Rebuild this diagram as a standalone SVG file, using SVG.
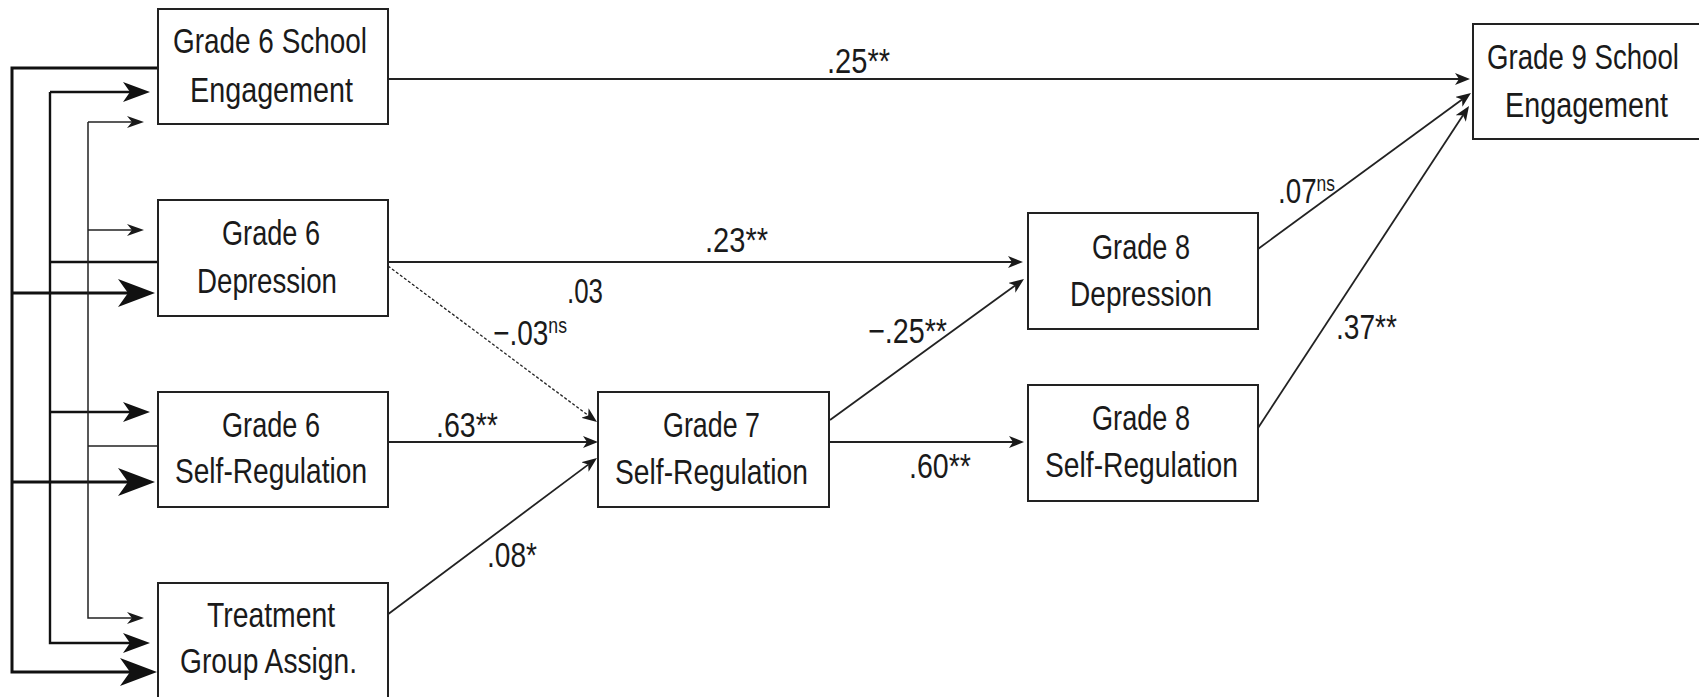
<svg xmlns="http://www.w3.org/2000/svg" width="1699" height="697" viewBox="0 0 1699 697">
  <style>
    .box { fill: #ffffff; stroke: #222222; stroke-width: 2; }
    .t { font-family: "Liberation Sans", Arial, sans-serif; font-size: 35px; fill: #1a1a1a; }
    .sup { font-size: 22px; }
    .path { fill: none; stroke: #222222; stroke-width: 1.8; }
    .dash { fill: none; stroke: #222222; stroke-width: 1.3; stroke-dasharray: 3 2; }
    .cor1 { fill: none; stroke: #111111; stroke-width: 3; }
    .cor2 { fill: none; stroke: #111111; stroke-width: 2.4; }
    .cor3 { fill: none; stroke: #222222; stroke-width: 1.5; }
  </style>
  <defs>
    <!-- swept-back arrowheads; refX sits at the notch so the stroke ends inside the head -->
    <marker id="arr" viewBox="0 0 15 12" markerWidth="15" markerHeight="12" refX="4" refY="6" orient="auto" markerUnits="userSpaceOnUse">
      <path d="M15,6 L0,0 L4,6 L0,12 Z" fill="#1a1a1a"/>
    </marker>
    <marker id="arrBig" viewBox="0 0 37 28" markerWidth="37" markerHeight="28" refX="10" refY="14" orient="auto" markerUnits="userSpaceOnUse">
      <path d="M37,14 L0,0 L10,14 L0,28 Z" fill="#111111"/>
    </marker>
    <marker id="arrMid" viewBox="0 0 27 20" markerWidth="27" markerHeight="20" refX="7" refY="10" orient="auto" markerUnits="userSpaceOnUse">
      <path d="M27,10 L0,0 L7,10 L0,20 Z" fill="#111111"/>
    </marker>
    <marker id="arrSmall" viewBox="0 0 17 12" markerWidth="17" markerHeight="12" refX="5" refY="6" orient="auto" markerUnits="userSpaceOnUse">
      <path d="M17,6 L0,0 L5,6 L0,12 Z" fill="#1a1a1a"/>
    </marker>
  </defs>

  <rect width="1699" height="697" fill="#ffffff"/>

  <!-- connectors -->
  <g id="connectors">
    <!-- covariances among grade 6 measures and treatment -->
    <path class="cor1" d="M158,68 H12 V672 H130" marker-end="url(#arrBig)"/>
    <path class="cor1" d="M12,293 H128" marker-end="url(#arrBig)"/>
    <path class="cor1" d="M12,482 H128" marker-end="url(#arrBig)"/>

    <path class="cor2" d="M158,262 H50"/>
    <path class="cor2" d="M50,92 V643 H130" marker-end="url(#arrMid)"/>
    <path class="cor2" d="M50,92 H130" marker-end="url(#arrMid)"/>
    <path class="cor2" d="M50,412 H130" marker-end="url(#arrMid)"/>

    <path class="cor3" d="M158,446 H88"/>
    <path class="cor3" d="M88,122 V618 H132" marker-end="url(#arrSmall)"/>
    <path class="cor3" d="M88,122 H132" marker-end="url(#arrSmall)"/>
    <path class="cor3" d="M88,230 H132" marker-end="url(#arrSmall)"/>

    <!-- structural paths -->
    <path class="path" d="M388,79 H1459" marker-end="url(#arr)"/>
    <path class="path" d="M388,262 H1012" marker-end="url(#arr)"/>
    <path class="dash" d="M388,266 L588.2,415.4" marker-end="url(#arr)"/>
    <path class="path" d="M388,442 H587" marker-end="url(#arr)"/>
    <path class="path" d="M387,615 L588.2,464.6" marker-end="url(#arr)"/>
    <path class="path" d="M830,420 L1015.1,285.5" marker-end="url(#arr)"/>
    <path class="path" d="M829,442 H1013" marker-end="url(#arr)"/>
    <path class="path" d="M1258,249 L1462.1,99.5" marker-end="url(#arr)"/>
    <path class="path" d="M1258,428 L1463,115.2" marker-end="url(#arr)"/>

    <!-- path coefficients -->
    <text class="t" x="827" y="73" textLength="63" lengthAdjust="spacingAndGlyphs">.25**</text>
    <text class="t" x="705" y="252" textLength="63" lengthAdjust="spacingAndGlyphs">.23**</text>
    <text class="t" x="567" y="303" textLength="36" lengthAdjust="spacingAndGlyphs">.03</text>
    <text class="t" x="493" y="345" textLength="74" lengthAdjust="spacingAndGlyphs">−.03<tspan class="sup" dy="-12">ns</tspan></text>
    <text class="t" x="436" y="437" textLength="62" lengthAdjust="spacingAndGlyphs">.63**</text>
    <text class="t" x="487" y="567" textLength="50" lengthAdjust="spacingAndGlyphs">.08*</text>
    <text class="t" x="868" y="343" textLength="79" lengthAdjust="spacingAndGlyphs">−.25**</text>
    <text class="t" x="909" y="478" textLength="62" lengthAdjust="spacingAndGlyphs">.60**</text>
    <text class="t" x="1278" y="203" textLength="57" lengthAdjust="spacingAndGlyphs">.07<tspan class="sup" dy="-12">ns</tspan></text>
    <text class="t" x="1336" y="339" textLength="61" lengthAdjust="spacingAndGlyphs">.37**</text>
  </g>

  <!-- nodes -->
  <g id="g6-engagement">
    <rect class="box" x="158" y="9" width="230" height="115"/>
    <text class="t" x="173" y="53" textLength="194" lengthAdjust="spacingAndGlyphs">Grade 6 School</text>
    <text class="t" x="190" y="102" textLength="163" lengthAdjust="spacingAndGlyphs">Engagement</text>
  </g>
  <g id="g6-depression">
    <rect class="box" x="158" y="200" width="230" height="116"/>
    <text class="t" x="222" y="245" textLength="98" lengthAdjust="spacingAndGlyphs">Grade 6</text>
    <text class="t" x="197" y="293" textLength="140" lengthAdjust="spacingAndGlyphs">Depression</text>
  </g>
  <g id="g6-selfreg">
    <rect class="box" x="158" y="392" width="230" height="115"/>
    <text class="t" x="222" y="437" textLength="98" lengthAdjust="spacingAndGlyphs">Grade 6</text>
    <text class="t" x="175" y="483" textLength="192" lengthAdjust="spacingAndGlyphs">Self-Regulation</text>
  </g>
  <g id="treatment">
    <rect class="box" x="158" y="583" width="230" height="116"/>
    <text class="t" x="207" y="627" textLength="128" lengthAdjust="spacingAndGlyphs">Treatment</text>
    <text class="t" x="180" y="673" textLength="177" lengthAdjust="spacingAndGlyphs">Group Assign.</text>
  </g>
  <g id="g7-selfreg">
    <rect class="box" x="598" y="392" width="231" height="115"/>
    <text class="t" x="663" y="437" textLength="97" lengthAdjust="spacingAndGlyphs">Grade 7</text>
    <text class="t" x="615" y="484" textLength="193" lengthAdjust="spacingAndGlyphs">Self-Regulation</text>
  </g>
  <g id="g8-depression">
    <rect class="box" x="1028" y="213" width="230" height="116"/>
    <text class="t" x="1092" y="259" textLength="98" lengthAdjust="spacingAndGlyphs">Grade 8</text>
    <text class="t" x="1070" y="306" textLength="142" lengthAdjust="spacingAndGlyphs">Depression</text>
  </g>
  <g id="g8-selfreg">
    <rect class="box" x="1028" y="385" width="230" height="116"/>
    <text class="t" x="1092" y="430" textLength="98" lengthAdjust="spacingAndGlyphs">Grade 8</text>
    <text class="t" x="1045" y="477" textLength="193" lengthAdjust="spacingAndGlyphs">Self-Regulation</text>
  </g>
  <g id="g9-engagement">
    <rect class="box" x="1473" y="24" width="240" height="115"/>
    <text class="t" x="1487" y="69" textLength="192" lengthAdjust="spacingAndGlyphs">Grade 9 School</text>
    <text class="t" x="1505" y="117" textLength="163" lengthAdjust="spacingAndGlyphs">Engagement</text>
  </g>
</svg>
